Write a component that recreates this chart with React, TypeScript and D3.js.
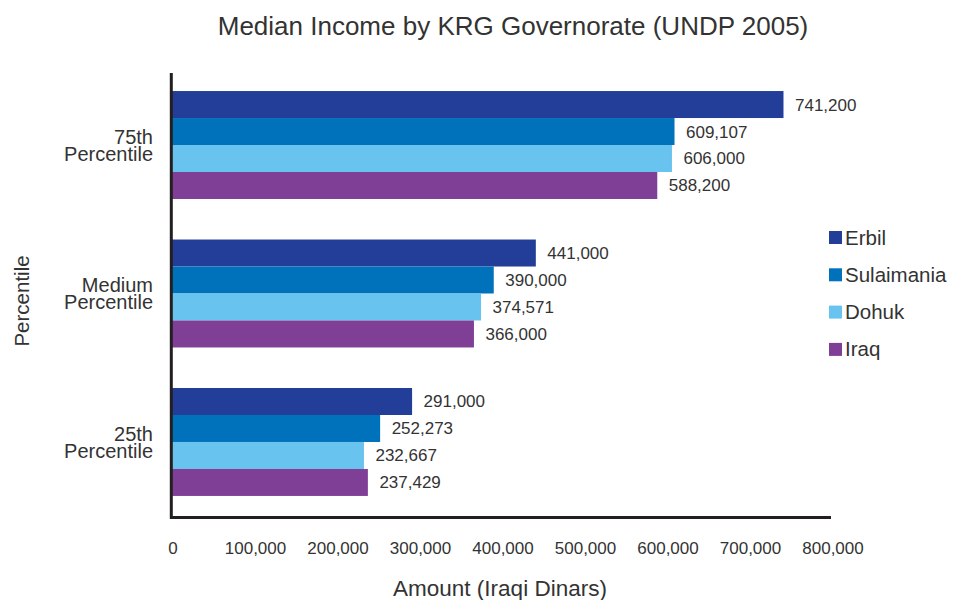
import React from 'react';
import * as d3 from 'd3';

// percentile groups (top to bottom) and the label lines shown for each
const groups = ['75th', 'Medium', '25th'];
const groupLines = [
  ['75th', 'Percentile'],
  ['Medium', 'Percentile'],
  ['25th', 'Percentile'],
];

const seriesNames = ['Erbil', 'Sulaimania', 'Dohuk', 'Iraq'];
const seriesColors = ['#233e99', '#0072bc', '#68c3ee', '#803f97'];

// values per series, in group order
const erbil = [741200, 441000, 291000];
const sulaimania = [609107, 390000, 252273];
const dohuk = [606000, 374571, 232667];
const iraq = [588200, 366000, 237429];

const xTicks = [0, 100000, 200000, 300000, 400000, 500000, 600000, 700000, 800000];

const W = 953;
const H = 600;
const FONT = "'Liberation Sans', Arial, sans-serif";
const TEXT = '#333333';
const AXIS = '#231f20';

const App: React.FC = () => {
  const values = [erbil, sulaimania, dohuk, iraq];

  const x = d3.scaleLinear().domain([0, 800000]).range([172, 832]);

  const y0 = d3.scaleBand<string>()
    .domain(groups)
    .range([73, 518])
    .paddingInner(0.273)
    .paddingOuter(0.135)
    .align(0.45);

  const y1 = d3.scaleBand<string>()
    .domain(seriesNames)
    .range([0, y0.bandwidth()]);

  const fmt = d3.format(',');

  return (
    <svg width={W} height={H} style={{ position: 'absolute', left: 0, top: 0 }} fontFamily={FONT}>
      <rect width={W} height={H} fill="#ffffff" />

      {/* title */}
      <text x={513} y={34.5} textAnchor="middle" fontSize={26} fill={TEXT}>
        Median Income by KRG Governorate (UNDP 2005)
      </text>

      {/* bars + value labels */}
      {groups.map((g, gi) => (
        <g key={g} transform={`translate(0, ${y0(g)})`}>
          {seriesNames.map((s, si) => {
            const v = values[si][gi];
            const by = y1(s)!;
            return (
              <g key={s}>
                <rect
                  x={x(0)}
                  y={by}
                  width={x(v) - x(0)}
                  height={y1.bandwidth()}
                  fill={seriesColors[si]}
                />
                <text
                  x={x(v) + 11.5}
                  y={by + y1.bandwidth() / 2 + 6}
                  fontSize={17}
                  fill={TEXT}
                >
                  {fmt(v)}
                </text>
              </g>
            );
          })}
        </g>
      ))}

      {/* category labels, two tight lines */}
      {groups.map((g, gi) => {
        const c = y0(g)! + y0.bandwidth() / 2;
        return (
          <text key={g} textAnchor="end" fontSize={20} fill={TEXT}>
            <tspan x={153} y={c - 1}>{groupLines[gi][0]}</tspan>
            <tspan x={153} y={c + 16}>{groupLines[gi][1]}</tspan>
          </text>
        );
      })}

      {/* axes lines */}
      <line x1={171.3} x2={171.3} y1={73} y2={519} stroke={AXIS} strokeWidth={3} />
      <line x1={170} x2={x.range()[1] - 1} y1={517.5} y2={517.5} stroke={AXIS} strokeWidth={3} />

      {/* x tick labels */}
      {xTicks.map(t => (
        <text key={t} x={x(t) + 1} y={554} textAnchor="middle" fontSize={17} fill={TEXT}>
          {fmt(t)}
        </text>
      ))}

      {/* axis titles */}
      <text x={500} y={596} textAnchor="middle" fontSize={22.5} fill={TEXT}>
        Amount (Iraqi Dinars)
      </text>
      <text transform="translate(29, 301) rotate(-90)" textAnchor="middle" fontSize={20.5} fill={TEXT}>
        Percentile
      </text>

      {/* legend */}
      {seriesNames.map((s, i) => {
        const ly = 231 + i * 37.3;
        return (
          <g key={s}>
            <rect x={829} y={ly} width={13} height={13} fill={seriesColors[i]} />
            <text x={845} y={ly + 13.5} fontSize={20.5} fill={TEXT}>{s}</text>
          </g>
        );
      })}
    </svg>
  );
};

export default App;
